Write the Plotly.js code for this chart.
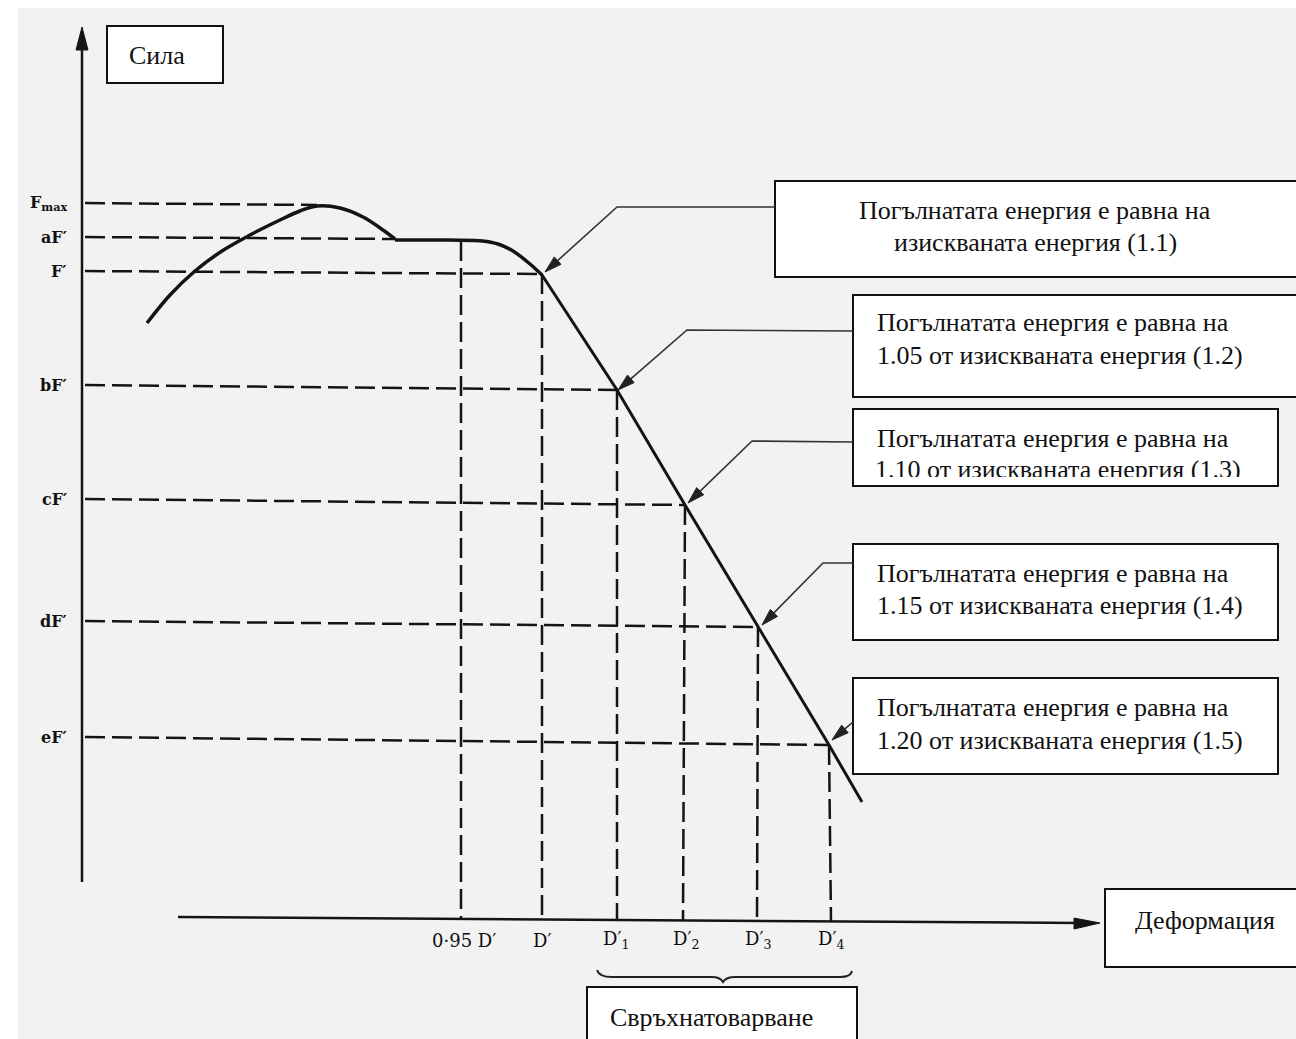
<!DOCTYPE html>
<html>
<head>
<meta charset="utf-8">
<script src="https://cdn.plot.ly/plotly-3.0.1.min.js"></script>
<style>html,body{margin:0;padding:0;background:#fff;}#chart{width:1296px;height:1039px;}</style>
</head>
<body>
<div id="chart"></div>
<script>
// ---- data (page-pixel units of the schematic) ----
const levelLabels = ['F<sub>max</sub>', 'aF′', 'F′', 'bF′', 'cF′', 'dF′', 'eF′'];
const levelAxisY  = [203, 237, 271, 385, 499, 621, 737];   // where dashed level meets force axis
const levelEndX   = [317, 395, 542, 617, 685, 758, 829];   // where it meets the curve
const levelEndY   = [205, 239, 274, 390, 505, 627, 745];

const deformLabels = ['0·95 D′', 'D′', 'D′<sub>1</sub>', 'D′<sub>2</sub>', 'D′<sub>3</sub>', 'D′<sub>4</sub>'];
const deformLabelX = [464, 542, 616, 686, 758, 831];
const deformTopX   = [461, 542, 617, 685, 758, 829];
const deformTopY   = [241, 274, 390, 505, 627, 745];
const deformBaseX  = [461, 542, 617, 683, 757, 831];
const deformBaseY  = [918, 919, 920, 920, 921, 922];

const arcX  = [147, 170, 195, 222, 250, 280, 300, 317, 340, 363, 383, 395];
const arcY  = [323, 295, 271, 251, 235, 220, 211, 206, 208, 217, 230, 239];
const kneeX = [395, 440, 482, 498, 513, 530, 542];
const kneeY = [240, 240, 241, 244, 251, 264, 275];
const dropX = [542, 617, 685, 758, 829, 862];
const dropY = [275, 390, 505, 627, 745, 802];

const forceAxisX = [82, 82];   const forceAxisY = [44, 882];
const deformAxisX = [178, 1080]; const deformAxisY = [917, 923];

const boxTexts = [
  ['Погълнатата енергия е равна на', 'изискваната енергия (1.1)'],
  ['Погълнатата енергия е равна на', '1.05 от изискваната енергия (1.2)'],
  ['Погълнатата енергия е равна на', '1.10 от изискваната енергия (1.3)'],
  ['Погълнатата енергия е равна на', '1.15 от изискваната енергия (1.4)'],
  ['Погълнатата енергия е равна на', '1.20 от изискваната енергия (1.5)']
];
const boxX0 = [775, 853, 853, 853, 853];
const boxX1 = [1300, 1300, 1278, 1278, 1278];
const boxY0 = [181, 295, 409, 544, 678];
const boxY1 = [277, 397, 486, 640, 774];
const boxLine1Y = [210, 322, 438, 573, 707];
const boxLine2Y = [242, 355, 471, 605, 740];

const arrowStartX = [775, 853, 853, 853, 853];
const arrowStartY = [207, 331, 442, 563, 722];
const arrowElbowX = [617, 687, 752, 823, 853];
const arrowElbowY = [207, 330, 441, 563, 722];
const arrowTipX   = [545, 618, 688, 762, 832];
const arrowTipY   = [272, 390, 503, 625, 740];

const forceTitle = 'Сила';
const deformTitle = 'Деформация';
const overloadTitle = 'Свръхнатоварване';

// ---- build ----
const ink = '#141414';
const dash = '20px,7px';
const traces = [];
const shapes = [];
const annotations = [];

// scan background
shapes.push({type:'rect', xref:'x', yref:'y', x0:18, x1:1300, y0:8, y1:1045, fillcolor:'#f2f2f2', line:{width:0}, layer:'below'});

// boxes (white filled, below traces)
for (let i = 0; i < boxTexts.length; i++) {
  shapes.push({type:'rect', xref:'x', yref:'y', x0:boxX0[i], x1:boxX1[i], y0:boxY0[i], y1:boxY1[i],
    fillcolor:'#ffffff', line:{color:'#111', width:2}, layer:'below'});
}
shapes.push({type:'rect', xref:'x', yref:'y', x0:107, x1:223, y0:26, y1:83, fillcolor:'#fff', line:{color:'#111', width:2}, layer:'below'});
shapes.push({type:'rect', xref:'x', yref:'y', x0:1105, x1:1300, y0:889, y1:967, fillcolor:'#fff', line:{color:'#111', width:2}, layer:'below'});
shapes.push({type:'rect', xref:'x', yref:'y', x0:587, x1:857, y0:987, y1:1050, fillcolor:'#fff', line:{color:'#111', width:2}, layer:'below'});

// axes
traces.push({x:forceAxisX, y:forceAxisY, mode:'lines', line:{color:ink, width:2.5}, hoverinfo:'skip'});
traces.push({x:deformAxisX, y:deformAxisY, mode:'lines', line:{color:ink, width:2.5}, hoverinfo:'skip'});
shapes.push({type:'path', xref:'x', yref:'y', path:'M 82 27 L 76 50 L 88 50 Z', fillcolor:ink, line:{color:ink, width:1}, layer:'above'});
shapes.push({type:'path', xref:'x', yref:'y', path:'M 1100 923 L 1074 918 L 1074 929 Z', fillcolor:ink, line:{color:ink, width:1}, layer:'above'});

// dashed level lines
for (let i = 0; i < levelLabels.length; i++) {
  traces.push({x:[85, levelEndX[i]], y:[levelAxisY[i], levelEndY[i]], mode:'lines',
    line:{color:ink, width:2.5, dash:dash}, hoverinfo:'skip'});
  annotations.push({x:69, y:levelAxisY[i], xref:'x', yref:'y', text:'<b>'+levelLabels[i]+'</b>', showarrow:false,
    xanchor:'right', yanchor:'middle', font:{family:'DejaVu Serif', size:16, color:'#111'}});
}
// dashed deformation lines
for (let i = 0; i < deformLabels.length; i++) {
  traces.push({x:[deformTopX[i], deformBaseX[i]], y:[deformTopY[i], deformBaseY[i]], mode:'lines',
    line:{color:ink, width:2.5, dash:dash}, hoverinfo:'skip'});
  annotations.push({x:deformLabelX[i], y:940, xref:'x', yref:'y', text:deformLabels[i], showarrow:false,
    xanchor:'center', yanchor:'middle', font:{family:'DejaVu Serif', size:18, color:'#0d0d0d'}});
}

// curve
traces.push({x:arcX, y:arcY, mode:'lines', line:{color:ink, width:3.5, shape:'spline', smoothing:1}, hoverinfo:'skip'});
traces.push({x:kneeX, y:kneeY, mode:'lines', line:{color:ink, width:3.5, shape:'spline', smoothing:0.8}, hoverinfo:'skip'});
traces.push({x:dropX, y:dropY, mode:'lines', line:{color:ink, width:3}, hoverinfo:'skip'});

// leader arrows
for (let i = 0; i < arrowTipX.length; i++) {
  const dx = arrowTipX[i] - arrowElbowX[i], dy = arrowTipY[i] - arrowElbowY[i];
  const L = Math.hypot(dx, dy), ux = dx / L, uy = dy / L;
  const bx = arrowTipX[i] - 17 * ux, by = arrowTipY[i] - 17 * uy;
  traces.push({x:[arrowStartX[i], arrowElbowX[i], bx], y:[arrowStartY[i], arrowElbowY[i], by], mode:'lines',
    line:{color:'#333', width:1.6}, hoverinfo:'skip'});
  const px = -uy, py = ux;
  shapes.push({type:'path', xref:'x', yref:'y',
    path:`M ${arrowTipX[i]} ${arrowTipY[i]} L ${bx + 5*px} ${by + 5*py} L ${bx - 5*px} ${by - 5*py} Z`,
    fillcolor:'#222', line:{color:'#222', width:1}, layer:'above'});
}

// brace under overload deformations
shapes.push({type:'path', xref:'x', yref:'y',
  path:'M 597 970 Q 599 977 612 977 L 712 977 Q 720 977 723 982 Q 726 977 735 977 L 840 977 Q 851 977 852 971',
  line:{color:'#222', width:2}, layer:'above'});

// box texts
const boxFont = {family:'Liberation Serif, Times New Roman, serif', size:26, color:'#111'};
annotations.push({x:1035, y:boxLine1Y[0], xref:'x', yref:'y', text:boxTexts[0][0], showarrow:false, xanchor:'center', yanchor:'middle', font:boxFont});
annotations.push({x:1035, y:boxLine2Y[0], xref:'x', yref:'y', text:boxTexts[0][1], showarrow:false, xanchor:'center', yanchor:'middle', font:boxFont});
for (let i = 1; i < boxTexts.length; i++) {
  annotations.push({x:875, y:boxLine1Y[i], xref:'x', yref:'y', text:boxTexts[i][0], showarrow:false, xanchor:'left', yanchor:'middle', font:boxFont});
  if (i === 2) {
    // this line is cut off by the bottom of its box in the original
    traces.push({x:[875], y:[boxLine2Y[i]], mode:'text', text:[boxTexts[i][1]], textposition:'middle right',
      textfont:boxFont, hoverinfo:'skip'});
    shapes.push({type:'rect', xref:'x', yref:'y', x0:boxX0[i]+1.5, x1:boxX1[i]-1.5, y0:477, y1:boxY1[i]-1,
      fillcolor:'#ffffff', line:{width:0}, layer:'above'});
    shapes.push({type:'line', xref:'x', yref:'y', x0:boxX0[i], x1:boxX1[i], y0:boxY1[i], y1:boxY1[i],
      line:{color:'#111', width:2}, layer:'above'});
  } else {
    annotations.push({x:875, y:boxLine2Y[i], xref:'x', yref:'y', text:boxTexts[i][1], showarrow:false, xanchor:'left', yanchor:'middle', font:boxFont});
  }
}
annotations.push({x:127, y:55, xref:'x', yref:'y', text:forceTitle, showarrow:false, xanchor:'left', yanchor:'middle', font:boxFont});
annotations.push({x:1133, y:920, xref:'x', yref:'y', text:deformTitle, showarrow:false, xanchor:'left', yanchor:'middle', font:boxFont});
annotations.push({x:608, y:1017, xref:'x', yref:'y', text:overloadTitle, showarrow:false, xanchor:'left', yanchor:'middle', font:boxFont});

const layout = {
  width:1296, height:1039,
  margin:{l:0, r:0, t:0, b:0},
  paper_bgcolor:'#ffffff', plot_bgcolor:'#ffffff',
  showlegend:false,
  xaxis:{range:[0,1296], visible:false, fixedrange:true},
  yaxis:{range:[1039,0], visible:false, fixedrange:true},
  shapes:shapes, annotations:annotations
};
Plotly.newPlot('chart', traces, layout, {staticPlot:true, displayModeBar:false});
</script>
</body>
</html>
